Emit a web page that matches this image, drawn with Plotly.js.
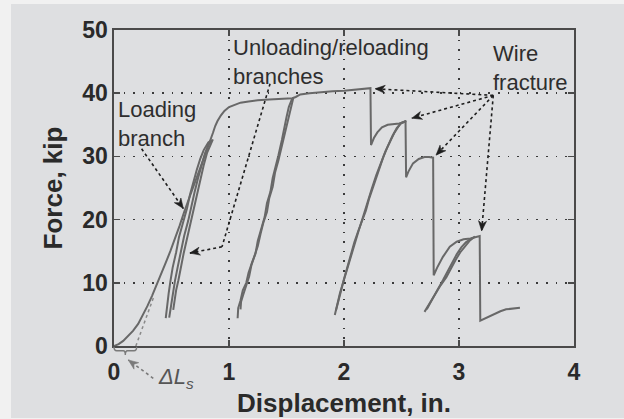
<!DOCTYPE html>
<html><head><meta charset="utf-8">
<script src="https://cdn.plot.ly/plotly-3.0.1.min.js"></script>
<style>
html,body{margin:0;padding:0;background:#f1f1f1;width:624px;height:419px;overflow:hidden;}
#chart{position:absolute;left:11px;top:4px;width:613px;height:414px;}
</style></head><body><div id="chart"></div>
<script>
// ---- data (displacement in., force kip) ----
const envelopeX = [0,0.04,0.08,0.12,0.165,0.21,0.25,0.29,0.33,0.37,0.41,0.45,0.49,0.53,0.57,0.61,0.65,0.69,0.73,0.77,0.80,0.835,0.86,0.88,0.90,0.93,0.96,1.00,1.05,1.10,1.17,1.25,1.35,1.45,1.55,1.58,1.62,1.70,1.80,1.90,2.00,2.10,2.18,2.23,2.235,2.26,2.29,2.33,2.38,2.43,2.48,2.535,2.54,2.56,2.60,2.65,2.70,2.74,2.775,2.78,2.81,2.86,2.92,2.98,3.04,3.10,3.18,3.185,3.24,3.30,3.36,3.41,3.47,3.53];
const envelopeY = [0,0.3,0.8,1.5,2.4,3.5,4.8,6.3,7.9,9.6,11.4,13.2,15.0,16.9,19.0,21.2,23.2,25.0,26.9,28.9,30.5,32.3,33.7,34.8,35.6,36.5,37.2,37.8,38.2,38.5,38.7,38.9,39.0,39.1,39.2,39.4,39.8,40.0,40.2,40.3,40.4,40.6,40.7,40.8,31.8,32.9,33.8,34.6,35.0,35.1,35.2,35.5,26.7,27.6,28.9,29.6,29.9,29.9,29.8,11.2,12.4,14.1,15.7,16.5,16.9,17.0,17.4,4.0,4.5,5.05,5.5,5.8,5.95,6.05];

const loop1aX = [0.45,0.46,0.475,0.49,0.51,0.54,0.565,0.60,0.635,0.66,0.69,0.72,0.75,0.78,0.82,0.85];
const loop1aY = [4.4,6.2,8.3,10.2,12.4,14.8,17.2,19.5,21.8,23.9,26.0,27.9,29.6,31.0,32.2,32.6];
const loop1bX = [0.48,0.495,0.51,0.53,0.555,0.58,0.61,0.645,0.67,0.70,0.73,0.76,0.79,0.82,0.85];
const loop1bY = [4.5,6.5,8.5,10.3,12.6,15.0,17.4,19.8,22.0,24.3,26.5,28.6,30.4,31.8,32.6];
const loop1cX = [0.515,0.525,0.54,0.56,0.58,0.605,0.635,0.665,0.70,0.725,0.75,0.78,0.81,0.835,0.86];
const loop1cY = [5.7,7.2,8.8,10.4,12.4,14.6,17.0,19.5,22.0,24.2,26.4,28.6,30.6,31.8,32.7];

const loop2aX = [1.075,1.08,1.10,1.12,1.15,1.17,1.20,1.23,1.25,1.28,1.31,1.33,1.36,1.38,1.41,1.43,1.46,1.48,1.50,1.52,1.55];
const loop2aY = [4.4,6.0,7.2,8.8,10.0,11.6,13.2,14.6,16.6,18.6,20.4,22.6,24.4,26.6,28.6,30.2,32.6,34.6,36.2,37.8,39.2];
const loop2bX = [1.10,1.105,1.125,1.15,1.175,1.195,1.225,1.25,1.275,1.30,1.33,1.35,1.38,1.40,1.43,1.45,1.48,1.50,1.52,1.54,1.56];
const loop2bY = [5.8,7.0,8.2,9.8,11.0,12.8,14.4,15.8,17.8,19.6,21.2,23.4,25.2,27.4,29.4,31.0,33.2,35.0,36.6,38.0,39.3];

const loop3aX = [1.92,1.94,1.965,1.99,2.02,2.05,2.08,2.10,2.13,2.17,2.20,2.24,2.28,2.32,2.36,2.40,2.44,2.49,2.54];
const loop3aY = [4.9,6.6,8.4,9.9,11.8,13.6,15.2,16.6,18.4,20.7,22.6,24.8,27.0,29.0,30.8,32.3,33.8,35.2,35.6];
const loop3bX = [1.93,1.955,1.975,2.0,2.03,2.06,2.09,2.12,2.155,2.19,2.22,2.26,2.30,2.34,2.38,2.42,2.46,2.50,2.54];
const loop3bY = [5.6,7.2,8.8,10.6,12.6,14.6,16.4,18.0,19.6,21.4,23.4,25.6,27.8,29.8,31.6,33.2,34.5,35.3,35.6];

const loop4aX = [2.70,2.74,2.79,2.84,2.89,2.93,2.97,3.01,3.05,3.09,3.13];
const loop4aY = [5.4,6.6,8.2,9.6,10.9,12.3,13.6,14.8,15.7,16.6,17.2];
const loop4bX = [2.72,2.76,2.81,2.86,2.90,2.94,2.98,3.02,3.06,3.10,3.14];
const loop4bY = [5.8,7.2,8.8,10.4,11.8,13.2,14.5,15.6,16.4,16.9,17.3];

// extrapolated initial slope showing slack ΔLs
const slackX = [0.19,0.35];
const slackY = [0,8];

const xTicks = [0,1,2,3,4];
const yTicks = [0,10,20,30,40,50];

// ---- drawing ----
const FONT = 'Liberation Sans, Arial, Helvetica, sans-serif';
const curveColor = '#686868';
function curve(x, y) {
  return {x: x, y: y, type: 'scatter', mode: 'lines', line: {color: curveColor, width: 2}, hoverinfo: 'skip', showlegend: false};
}
const traces = [
  curve(loop1aX, loop1aY), curve(loop1bX, loop1bY), curve(loop1cX, loop1cY),
  curve(loop2aX, loop2aY), curve(loop2bX, loop2bY),
  curve(loop3aX, loop3aY), curve(loop3bX, loop3bY),
  curve(loop4aX, loop4aY), curve(loop4bX, loop4bY),
  curve(envelopeX, envelopeY),
  {x: slackX, y: slackY, type: 'scatter', mode: 'lines', line: {color: '#8a8a8a', width: 1.5, dash: 'dot'}, showlegend: false, hoverinfo: 'skip'}
];

// px per unit of the plot area (460 x 316 px)
const SX = 460 / 4, SY = 316 / 50;
// filled swept-back arrowhead as a path shape
function headPath(tip, from, sx, sy, ref, color) {
  let dx = (from[0] - tip[0]) * sx, dy = (from[1] - tip[1]) * sy;
  const L = Math.hypot(dx, dy); dx /= L; dy /= L;
  const nx = -dy, ny = dx;
  const len = 10, half = 4, notch = 7;
  const p = (a, b) => [tip[0] + (dx * a + nx * b) / sx, tip[1] + (dy * a + ny * b) / sy];
  const pts = [p(0, 0), p(len, half), p(notch, 0), p(len, -half)];
  const path = 'M' + pts.map(q => q[0].toFixed(5) + ',' + q[1].toFixed(5)).join(' L') + ' Z';
  return {type: 'path', xref: ref[0], yref: ref[1], path: path, fillcolor: color, line: {color: color, width: 0.6}};
}
function dotted(a, b, color, ref) {
  ref = ref || ['x', 'y'];
  return {type: 'line', xref: ref[0], yref: ref[1], x0: a[0], y0: a[1], x1: b[0], y1: b[1],
    line: {color: color, width: 1.6, dash: 'dot'}};
}
const BLK = '#1e1e1e', GRY = '#7a7a7a';
const wireFrom = [3.298, 39.65];
const wireTips = [[2.27, 40.7], [2.59, 36.05], [2.80, 30.2], [3.197, 18.2]];
const loadFrom = [0.24, 31.2], loadTip = [0.603, 21.75];
const unlFrom = [1.357, 41.5], unlBend = [0.939, 15.7], unlTip = [0.66, 14.7];
// ΔLs pointer (paper coordinates, below the axis)
const slackFrom = [0.0854, -0.1022], slackTip = [0.0311, -0.0443];

const shapes = [
  dotted(loadFrom, loadTip, BLK),
  dotted(unlFrom, unlBend, BLK), dotted(unlBend, unlTip, BLK),
  ...wireTips.map(t => dotted(wireFrom, t, BLK)),
  headPath(loadTip, loadFrom, SX, SY, ['x', 'y'], BLK),
  headPath(unlTip, unlBend, SX, SY, ['x', 'y'], BLK),
  ...wireTips.map(t => headPath(t, wireFrom, SX, SY, ['x', 'y'], BLK)),
  dotted(slackFrom, slackTip, GRY, ['paper', 'paper']),
  headPath(slackTip, slackFrom, 460, 316, ['paper', 'paper'], GRY),
  // brace under the axis
  {type: 'path', xref: 'paper', yref: 'paper',
   path: 'M0,-0.0022 Q0,-0.0149 0.0059,-0.0149 L0.0202,-0.0149 Q0.0246,-0.0149 0.0246,-0.0285 Q0.0246,-0.0149 0.0293,-0.0149 L0.0435,-0.0149 Q0.0493,-0.0149 0.0493,-0.0022',
   line: {color: GRY, width: 1.4}}
];

const txtFont = {family: FONT, size: 22, color: '#2e2e2e'};
const annotations = [
  {x: 0.03, y: 35.1, xref: 'x', yref: 'y', text: 'Loading<br>branch', showarrow: false,
   xanchor: 'left', yanchor: 'middle', align: 'left', font: txtFont, borderpad: 0},
  {x: 1.03, y: 45.0, xref: 'x', yref: 'y', text: 'Unloading/reloading<br>branches', showarrow: false,
   xanchor: 'left', yanchor: 'middle', align: 'left', font: txtFont, borderpad: 0},
  {x: 3.285, y: 44.0, xref: 'x', yref: 'y', text: 'Wire<br>fracture', showarrow: false,
   xanchor: 'left', yanchor: 'middle', align: 'left', font: txtFont, borderpad: 0},
  {x: 0.093, y: -0.10, xref: 'paper', yref: 'paper', text: '<i>ΔL</i><sub><i>s</i></sub>', showarrow: false,
   xanchor: 'left', yanchor: 'middle', font: {family: FONT, size: 22, color: '#555'}, borderpad: 0}
];

const axisCommon = {
  showline: true, linecolor: '#4a4a4a', linewidth: 1.6, mirror: 'ticks',
  ticks: 'inside', ticklen: 6, tickwidth: 1.5, tickcolor: '#4a4a4a',
  showgrid: true, gridcolor: '#3a3a3a', gridwidth: 1.6, griddash: '1.6px,8px',
  zeroline: false, fixedrange: true,
  tickfont: {family: FONT, size: 23, color: '#2a2a2a', weight: 'bold'}
};
const titleFont = {family: FONT, size: 26, color: '#2a2a2a', weight: 'bold'};
const layout = {
  width: 613, height: 414,
  margin: {l: 103, r: 50, t: 26, b: 72},
  paper_bgcolor: '#dedfe1', plot_bgcolor: '#dedfe1',
  font: {family: FONT},
  xaxis: Object.assign({}, axisCommon, {range: [0, 4], tickvals: xTicks, ticktext: xTicks.map(String),
    ticklabelstandoff: 5,
    title: {text: 'Displacement, in.', font: titleFont, standoff: 10}}),
  yaxis: Object.assign({}, axisCommon, {range: [0, 50], tickvals: yTicks, ticktext: yTicks.map(String),
    title: {text: 'Force, kip', font: titleFont, standoff: 12}}),
  shapes: shapes,
  annotations: annotations,
  showlegend: false
};
Plotly.newPlot('chart', traces, layout, {staticPlot: true, displayModeBar: false});
</script></body></html>
